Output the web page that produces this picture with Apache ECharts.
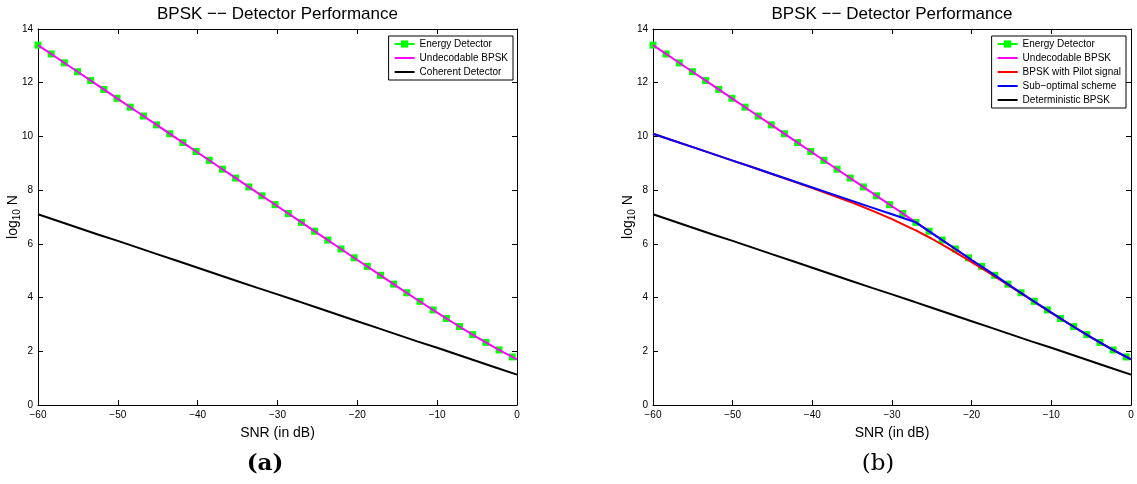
<!DOCTYPE html>
<html lang="en">
  <head>
    <meta charset="UTF-8" />
    <title>BPSK -- Detector Performance</title>
    <script src="https://cdn.jsdelivr.net/npm/echarts@6/dist/echarts.min.js"></script>
  </head>
  <body style="margin: 0; background: #fff">
    <div id="main" style="width: 1137px; height: 484px"></div>
    <script type="text/javascript">
      // SNR grid (dB) shared by the solid curves
      const snrDb = [-60, -57.5, -55, -52.5, -50, -47.5, -45, -42.5, -40, -37.5, -35, -32.5, -30,
        -27.5, -27, -25, -22.5, -20, -17.5, -15, -12.5, -10, -7.5, -5, -2.5, 0];
      const undecodable = [13.4, 12.9, 12.4, 11.9, 11.4, 10.9, 10.4, 9.9, 9.4, 8.9, 8.4, 7.9, 7.4,
        6.9, 6.8, 6.4, 5.9, 5.4, 4.91, 4.41, 3.92, 3.44, 2.97, 2.52, 2.09, 1.7];
      const coherent = [7.1, 6.85, 6.6, 6.35, 6.11, 5.86, 5.61, 5.36, 5.11, 4.86, 4.61, 4.36, 4.12,
        3.87, 3.82, 3.62, 3.37, 3.12, 2.87, 2.62, 2.37, 2.13, 1.88, 1.63, 1.38, 1.13];
      const pilot = [10.1, 9.85, 9.6, 9.35, 9.1, 8.85, 8.59, 8.34, 8.08, 7.81, 7.54, 7.24, 6.92,
        6.57, 6.5, 6.19, 5.77, 5.32, 4.86, 4.39, 3.91, 3.43, 2.97, 2.52, 2.09, 1.7];
      const subOptimal = [10.1, 9.85, 9.6, 9.35, 9.1, 8.85, 8.6, 8.35, 8.1, 7.85, 7.6, 7.35, 7.1,
        6.85, 6.8, 6.4, 5.9, 5.4, 4.91, 4.41, 3.92, 3.44, 2.97, 2.52, 2.09, 1.7];

      // energy detector markers
      const energySnr = [-60, -58.35, -56.7, -55.05, -53.4, -51.75, -50.1, -48.45, -46.8, -45.15,
        -43.5, -41.85, -40.2, -38.55, -36.9, -35.25, -33.6, -31.95, -30.3, -28.65, -27, -25.35,
        -23.7, -22.05, -20.4, -18.75, -17.1, -15.45, -13.8, -12.15, -10.5, -8.85, -7.2, -5.55,
        -3.9, -2.25, -0.6];
      const energy = [13.4, 13.07, 12.74, 12.41, 12.08, 11.75, 11.42, 11.09, 10.76, 10.43, 10.1,
        9.77, 9.44, 9.11, 8.78, 8.45, 8.12, 7.79, 7.46, 7.13, 6.8, 6.47, 6.14, 5.81, 5.48, 5.16,
        4.83, 4.5, 4.18, 3.86, 3.54, 3.22, 2.92, 2.62, 2.33, 2.05, 1.79];

      const xTicks = [-60, 0, 10];
      const yTicks = [0, 14, 2];

      const font = "Liberation Sans";
      const zip = (xs, ys) => xs.map((x, i) => [x, ys[i]]);
      const minus = (v) => String(v).replace("-", "\u2212");

      const plots = [
        { left: 38, width: 479, tag: "(a)", tagX: 265, tagWeight: "bold" },
        { left: 653, width: 478, tag: "(b)", tagX: 878, tagWeight: "normal" },
      ];

      let grids = [], xAxes = [], yAxes = [], graphics = [];
      plots.forEach((p, i) => {
        grids.push({ left: p.left, top: 29, width: p.width, height: 376 });
        const tick = { show: true, inside: true, length: 5, lineStyle: { color: "#000" } };
        const line = { show: true, onZero: false, lineStyle: { color: "#000", width: 1 } };
        xAxes.push({
          type: "value", gridIndex: i, min: xTicks[0], max: xTicks[1], interval: xTicks[2],
          axisLine: line, axisTick: tick, splitLine: { show: false },
          axisLabel: { formatter: minus, fontFamily: font, fontSize: 10, color: "#000", margin: 5 },
          name: "SNR (in dB)", nameLocation: "middle", nameGap: 21, nameMoveOverlap: false,
          nameTextStyle: { fontFamily: font, fontSize: 14, color: "#000" },
        });
        xAxes.push({
          type: "value", gridIndex: i, position: "top", min: xTicks[0], max: xTicks[1],
          interval: xTicks[2], axisLine: line, axisTick: tick, axisLabel: { show: false },
          splitLine: { show: false },
        });
        yAxes.push({
          type: "value", gridIndex: i, min: yTicks[0], max: yTicks[1], interval: yTicks[2],
          axisLine: line, axisTick: tick, splitLine: { show: false },
          axisLabel: { fontFamily: font, fontSize: 10, color: "#000", margin: 5 },
          name: "{a|log}{s|10}{a| N}", nameLocation: "middle", nameRotate: 90, nameGap: 16,
          nameMoveOverlap: false,
          nameTextStyle: {
            rich: {
              a: { fontFamily: font, fontSize: 14, color: "#000" },
              s: { fontFamily: font, fontSize: 10, color: "#000", padding: [7, 0, 0, 0] },
            },
          },
        });
        yAxes.push({
          type: "value", gridIndex: i, position: "right", min: yTicks[0], max: yTicks[1],
          interval: yTicks[2], axisLine: line, axisTick: tick, axisLabel: { show: false },
          splitLine: { show: false },
        });
        graphics.push({
          type: "text", x: p.left + p.width / 2, y: 14,
          style: {
            text: "BPSK \u2212\u2212 Detector Performance", align: "center", verticalAlign: "middle",
            fontFamily: font, fontSize: 17, fill: "#000",
          },
        });
        graphics.push({
          type: "text", x: p.tagX, y: 464,
          style: {
            text: p.tag, align: "center", verticalAlign: "middle",
            fontFamily: "DejaVu Serif", fontWeight: p.tagWeight, fontSize: 23, fill: "#000",
          },
        });
      });

      const solid = (name, color, data, xi, yi) => ({
        name, type: "line", xAxisIndex: xi, yAxisIndex: yi, data, z: 3,
        symbol: "none", lineStyle: { color, width: 2 }, itemStyle: { color },
      });
      const energySeries = (xi, yi) => ({
        name: "Energy Detector", type: "line", xAxisIndex: xi, yAxisIndex: yi, z: 2,
        data: zip(energySnr, energy), symbol: "rect", symbolSize: 7,
        lineStyle: { color: "#00ff00", width: 1, type: "dashed" },
        itemStyle: { color: "#00ff00" },
      });

      const series = [
        energySeries(0, 0),
        solid("Undecodable BPSK", "#ff00ff", zip(snrDb, undecodable), 0, 0),
        solid("Coherent Detector", "#000000", zip(snrDb, coherent), 0, 0),
        energySeries(2, 2),
        solid("Undecodable BPSK", "#ff00ff", zip(snrDb, undecodable), 2, 2),
        solid("BPSK with Pilot signal", "#ff0000", zip(snrDb, pilot), 2, 2),
        solid("Sub\u2212optimal scheme", "#0000ff", zip(snrDb, subOptimal), 2, 2),
        solid("Deterministic BPSK", "#000000", zip(snrDb, coherent), 2, 2),
      ];

      // legend entries for plain lines: hide the symbol, keep the line sample
      const lineItem = (name) => ({ name, itemStyle: { opacity: 0 } });

      const legendBase = {
        orient: "vertical", top: 36, itemWidth: 20, itemHeight: 9, itemGap: 4,
        padding: [3, 5, 3, 5], borderColor: "#000", borderWidth: 1, backgroundColor: "#fff",
        textStyle: { fontFamily: font, fontSize: 10, color: "#000" }, selectedMode: false,
      };

      let myChart = echarts.init(document.getElementById("main"));
      myChart.setOption({
        animation: false,
        backgroundColor: "#fff",
        grid: grids,
        xAxis: xAxes,
        yAxis: yAxes,
        legend: [
          Object.assign({}, legendBase, {
            right: 1137 - 513,
            data: ["Energy Detector", lineItem("Undecodable BPSK"), lineItem("Coherent Detector")],
          }),
          Object.assign({}, legendBase, {
            right: 1137 - 1126,
            data: ["Energy Detector", lineItem("Undecodable BPSK"), lineItem("BPSK with Pilot signal"),
              lineItem("Sub\u2212optimal scheme"), lineItem("Deterministic BPSK")],
          }),
        ],
        graphic: graphics,
        series: series,
      });
    </script>
  </body>
</html>
